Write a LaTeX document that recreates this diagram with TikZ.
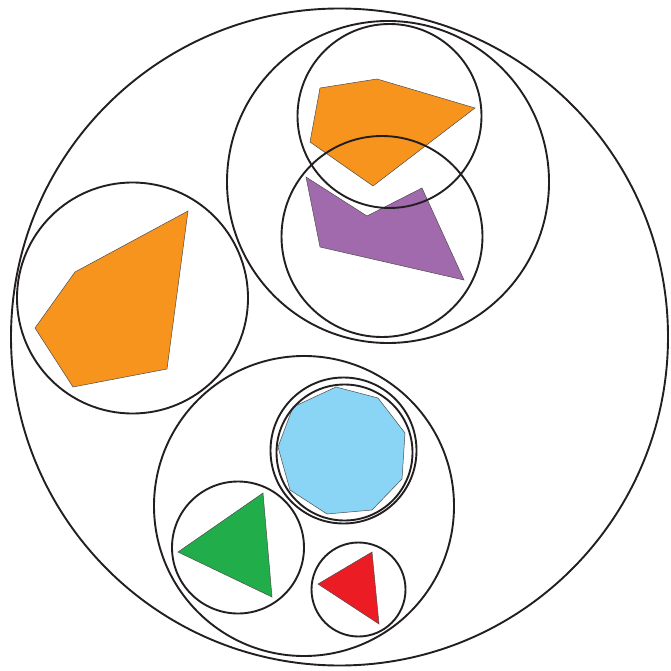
\documentclass[tikz,border=0pt]{standalone}
\usepackage{tikz}

\definecolor{naranja}{RGB}{247,148,30}
\definecolor{morado}{RGB}{161,106,172}
\definecolor{celeste}{RGB}{138,212,245}
\definecolor{verde}{RGB}{34,173,75}
\definecolor{rojo}{RGB}{236,28,36}
\definecolor{tinta}{RGB}{35,31,32}

\begin{document}
\begin{tikzpicture}[x=1pt,y=-1pt,
  ring/.style={draw=tinta,line width=1.9pt},
  pieza/.style={draw=tinta!80,line width=0.5pt,line join=miter}]
  \useasboundingbox (0,0) rectangle (670,671);
  % piezas de colores
  \draw[pieza,fill=naranja] (320,88)--(377,79)--(475,108)--(373,186)--(310,142)--cycle;
  \draw[pieza,fill=morado] (306,177)--(367,216)--(422,188)--(464,280)--(320,247)--cycle;
  \draw[pieza,fill=naranja] (188,211)--(75,272)--(35,328)--(73,387)--(167,369)--cycle;
  \draw[pieza,fill=celeste] (336,387)--(378,398)--(405,433)--(402,479)--(372,510)
    --(327,514)--(290,490)--(278,447)--(293,407)--cycle;
  \draw[pieza,fill=verde] (263,493)--(178,552)--(272,597)--cycle;
  \draw[pieza,fill=rojo] (372,552)--(318,584)--(379,624)--cycle;
  % circulos anidados
  \draw[ring] (339.5,337) circle[radius=328.5];
  \draw[ring] (388,182) circle[radius=161];
  \draw[ring] (389.5,116) circle[radius=92];
  \draw[ring] (382,236.5) circle[radius=100.5];
  \draw[ring] (132.5,298) circle[radius=115.5];
  \draw[ring] (304,506) circle[radius=150];
  \draw[ring] (343.5,450.5) circle[radius=73];
  \draw[ring] (344.5,452.5) circle[radius=68];
  \draw[ring] (238,547.5) circle[radius=66];
  \draw[ring] (358.5,589.5) circle[radius=47];
\end{tikzpicture}
\end{document}
